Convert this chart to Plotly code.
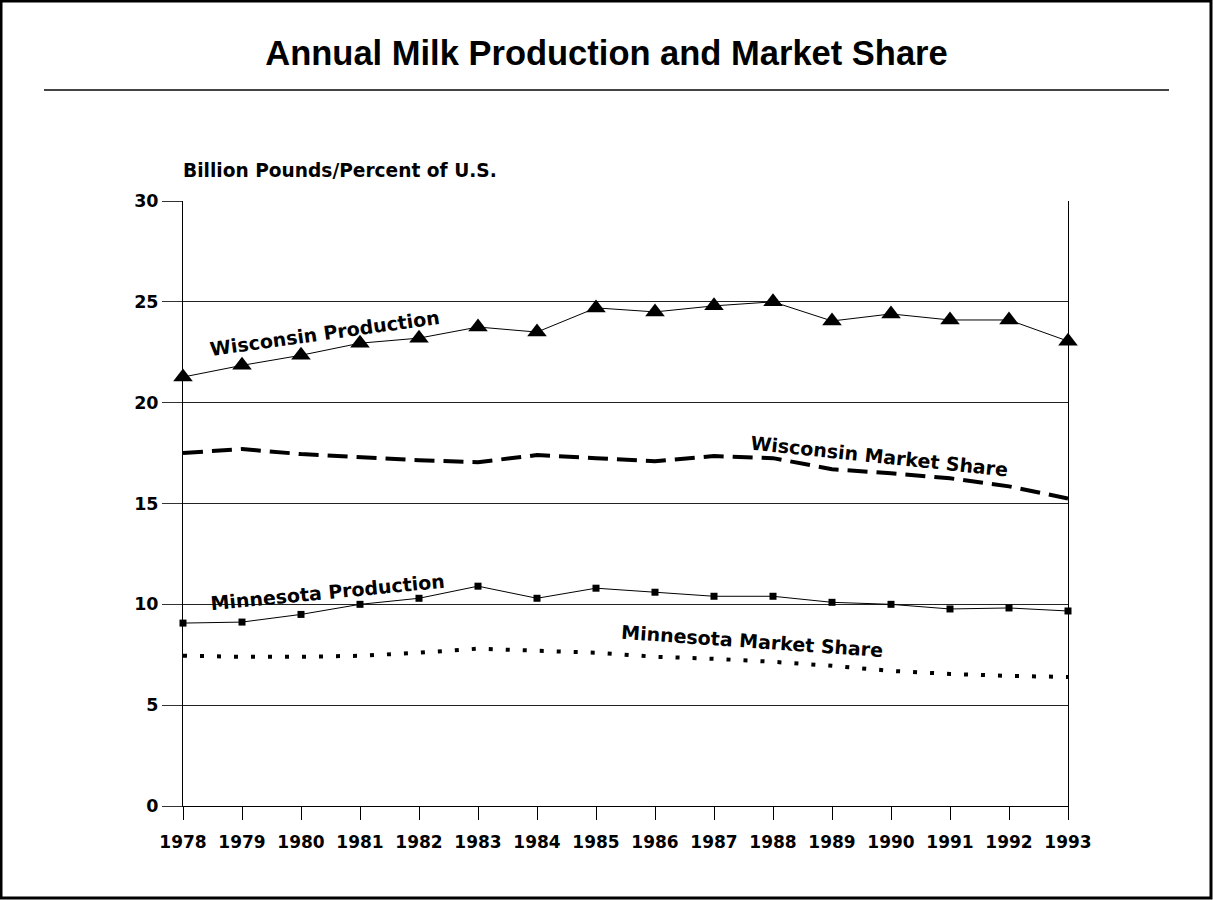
import plotly.graph_objects as go

years = list(range(1978, 1994))
wi_production = [21.27, 21.85, 22.35, 22.95, 23.2, 23.75, 23.5, 24.7, 24.5, 24.8, 25.0, 24.05, 24.4, 24.1, 24.1, 23.05]
wi_share = [17.5, 17.7, 17.45, 17.3, 17.15, 17.05, 17.4, 17.25, 17.1, 17.35, 17.25, 16.7, 16.5, 16.25, 15.85, 15.25]
mn_production = [9.07, 9.12, 9.5, 10.0, 10.3, 10.9, 10.3, 10.8, 10.6, 10.4, 10.4, 10.1, 10.0, 9.77, 9.82, 9.67]
mn_share = [7.45, 7.4, 7.4, 7.45, 7.6, 7.8, 7.7, 7.6, 7.4, 7.3, 7.15, 6.95, 6.7, 6.55, 6.45, 6.4]
y_ticks = [0, 5, 10, 15, 20, 25, 30]

W, H = 1213, 900
ML, MR, MT, MB = 183, 145, 201, 94
PW, PH = W - ML - MR, H - MT - MB

def px_x(p):
    return (p - ML) / PW

def px_y(p):
    return (H - MB - p) / PH

FONT = "DejaVu Sans"

fig = go.Figure()
fig.add_trace(go.Scatter(x=years, y=wi_production, mode="lines+markers",
                         line=dict(color="black", width=1),
                         marker=dict(symbol="triangle-up", size=17, color="black"),
                         cliponaxis=False, name="Wisconsin Production"))
fig.add_trace(go.Scatter(x=years, y=wi_share, mode="lines",
                         line=dict(color="black", width=4, dash="20px,9px"),
                         cliponaxis=False, name="Wisconsin Market Share"))
fig.add_trace(go.Scatter(x=years, y=mn_production, mode="lines+markers",
                         line=dict(color="black", width=1),
                         marker=dict(symbol="square", size=7, color="black"),
                         cliponaxis=False, name="Minnesota Production"))
fig.add_trace(go.Scatter(x=years, y=mn_share, mode="lines",
                         line=dict(color="black", width=4, dash="4px,13px"),
                         cliponaxis=False, name="Minnesota Market Share"))

labels = [
    ("Wisconsin Production", 1980.4, 23.45, -8),
    ("Wisconsin Market Share", 1989.8, 17.35, 6),
    ("Minnesota Production", 1980.45, 10.6, -5.5),
    ("Minnesota Market Share", 1987.65, 8.18, 4),
]
for text, x, y, ang in labels:
    fig.add_annotation(x=x, y=y, text=text, showarrow=False, textangle=ang,
                       font=dict(family=FONT, size=19, color="black", weight="bold"))

fig.add_annotation(xref="paper", yref="paper", x=px_x(181), y=px_y(171), xanchor="left", yanchor="middle",
                   text="Billion Pounds/Percent of U.S.", showarrow=False,
                   font=dict(family=FONT, size=18.6, color="black", weight="bold"))

# title underline
fig.add_shape(type="line", xref="paper", yref="paper", x0=px_x(44), x1=px_x(1169),
              y0=px_y(90), y1=px_y(90), line=dict(color="#444444", width=2))
# outer frame
fig.add_shape(type="rect", xref="paper", yref="paper", x0=px_x(1), x1=px_x(W - 2),
              y0=px_y(H - 2), y1=px_y(1), line=dict(color="black", width=3))

fig.update_layout(
    width=W, height=H,
    margin=dict(l=ML, r=MR, t=MT, b=MB),
    paper_bgcolor="white", plot_bgcolor="white",
    showlegend=False,
    title=dict(text="Annual Milk Production and Market Share", x=0.5, xanchor="center",
               xref="container", y=1 - 53 / H, yanchor="middle", yref="container",
               font=dict(family="Liberation Sans", size=34.5, color="black", weight="bold")),
    xaxis=dict(range=[1978, 1993], tickmode="array", tickvals=years,
               ticktext=[str(y) for y in years], ticks="outside", ticklen=13,
               tickcolor="black", tickwidth=1, showgrid=False, zeroline=False,
               showline=True, linecolor="black", linewidth=1, ticklabelstandoff=8,
               tickfont=dict(family=FONT, size=17, color="black", weight="bold")),
    yaxis=dict(range=[0, 30], tickmode="array", tickvals=y_ticks, ticks="outside",
               ticklen=20, tickcolor="#333333", tickwidth=1, showgrid=True,
               gridcolor="#222222", gridwidth=1, zeroline=False,
               showline=True, linecolor="black", linewidth=1, mirror=True,
               tickfont=dict(family=FONT, size=17.5, color="black", weight="bold")),
)

fig.write_html("out.html", post_script="document.body.style.margin='0';",
               config={"displayModeBar": False})
